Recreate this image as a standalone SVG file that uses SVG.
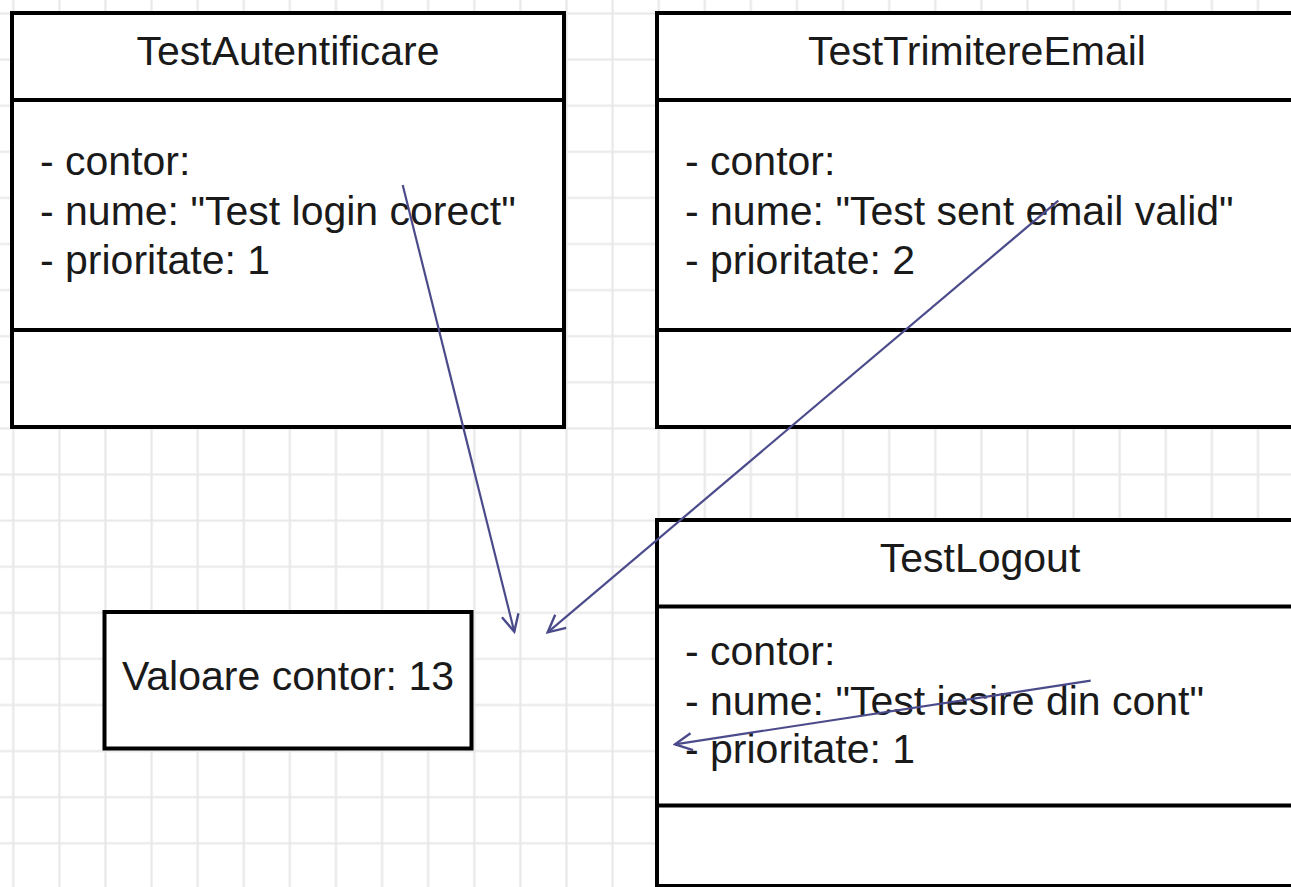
<svg xmlns="http://www.w3.org/2000/svg" width="1291" height="887" viewBox="0 0 1291 887">
<style>
.box{fill:#ffffff;stroke:#000000;stroke-width:4}
.div{stroke:#000000;stroke-width:4}
.t{font-family:"Liberation Sans",Arial,sans-serif;font-size:41px;fill:#1a1a1a}
.c{text-anchor:middle}
.conn{stroke:#4b4b8b;stroke-width:2.2;fill:none}
</style>
<defs>
<pattern id="grid" x="-9.75" y="-9.55" width="46.1" height="46.1" patternUnits="userSpaceOnUse">
<path d="M23.05 0V46.1M0 23.05H46.1" stroke="#e8e8e8" stroke-width="2.2" fill="none"/>
</pattern>
<marker id="arr" viewBox="0 0 20 20" refX="18" refY="10" markerWidth="20" markerHeight="20" markerUnits="userSpaceOnUse" orient="auto">
<path d="M1 1.5L18 10L1 18.5" fill="none" stroke="#4b4b8b" stroke-width="2.4"/>
</marker>
</defs>
<rect width="1291" height="887" fill="#ffffff"/>
<rect width="1291" height="887" fill="url(#grid)"/>
<g id="TestAutentificare">
<rect class="box" x="12" y="13" width="552" height="414"/>
<line class="div" x1="12" y1="100" x2="564" y2="100"/>
<line class="div" x1="12" y1="330" x2="564" y2="330"/>
<text class="t c" x="288" y="65">TestAutentificare</text>
<text class="t" x="40" y="175">- contor:</text>
<text class="t" x="40" y="225">- nume: "Test login corect"</text>
<text class="t" x="40" y="274">- prioritate: 1</text>
</g>
<g id="TestTrimitereEmail">
<rect class="box" x="657" y="13" width="640" height="414"/>
<line class="div" x1="657" y1="100" x2="1297" y2="100"/>
<line class="div" x1="657" y1="330" x2="1297" y2="330"/>
<text class="t c" x="977" y="65">TestTrimitereEmail</text>
<text class="t" x="685" y="175">- contor:</text>
<text class="t" x="685" y="225">- nume: "Test sent email valid"</text>
<text class="t" x="685" y="274">- prioritate: 2</text>
</g>
<g id="TestLogout">
<rect class="box" x="657" y="520" width="640" height="366"/>
<line class="div" x1="657" y1="606.5" x2="1297" y2="606.5"/>
<line class="div" x1="657" y1="805.5" x2="1297" y2="805.5"/>
<text class="t c" x="980" y="572">TestLogout</text>
<text class="t" x="685" y="665">- contor:</text>
<text class="t" x="685" y="715">- nume: "Test iesire din cont"</text>
<text class="t" x="685" y="763">- prioritate: 1</text>
</g>
<g id="ValoareContor">
<rect class="box" x="104.5" y="612" width="367" height="136.5"/>
<text class="t c" x="288" y="690">Valoare contor: 13</text>
</g>
<g id="connectors">
<line class="conn" x1="402.7" y1="185" x2="514.3" y2="631.7" marker-end="url(#arr)"/>
<line class="conn" x1="1058.3" y1="200.7" x2="547.7" y2="632.3" marker-end="url(#arr)"/>
<line class="conn" x1="1090.7" y1="680.7" x2="675" y2="744.3" marker-end="url(#arr)"/>
</g>
</svg>
